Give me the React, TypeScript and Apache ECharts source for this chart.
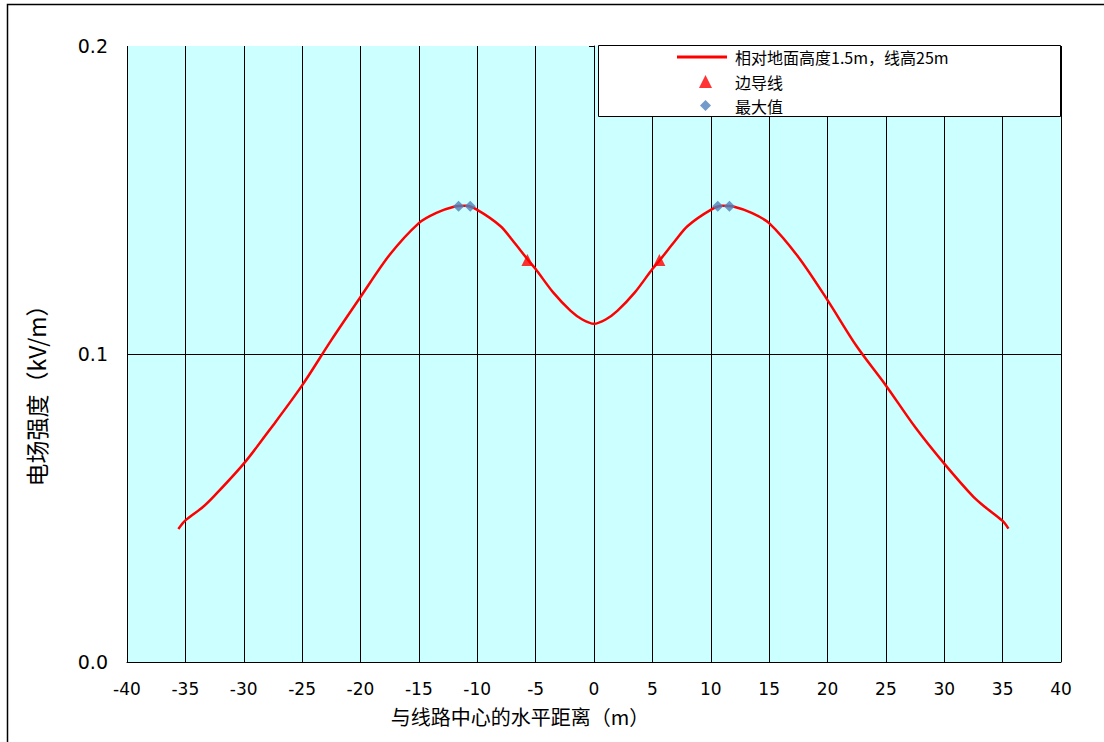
import React, { useEffect, useRef } from "react";
import * as echarts from "echarts";

// distance from line centre (m)
const distance = [
  -35.6, -35, -33.5, -32.5, -30, -27.5, -25, -22.5, -20, -17.5, -15, -13.5, -12, -11, -10, -8, -7,
  -5.6, -5, -3.5, -2, -1, 0, 1, 2, 3.5, 5, 5.6, 7, 8, 10, 11, 12, 13.5, 15, 17.5, 20, 22.5, 25,
  27.5, 30, 32.5, 33.5, 35, 35.5,
];
// electric field strength (kV/m)
const fieldStrength = [
  0.0432, 0.046, 0.0503, 0.054, 0.0644, 0.0768, 0.0898, 0.1045, 0.1185, 0.1322, 0.1425, 0.1458,
  0.1478, 0.1481, 0.1468, 0.1415, 0.137, 0.1303, 0.1276, 0.12, 0.114, 0.1112, 0.1098, 0.1112,
  0.114, 0.12, 0.1276, 0.1303, 0.137, 0.1415, 0.1468, 0.1481, 0.1478, 0.1458, 0.1425, 0.1315,
  0.1175, 0.1025, 0.0898, 0.0763, 0.0644, 0.0536, 0.0503, 0.0458, 0.0433,
];
const sideConductorX = [-5.7, 5.6];
const sideConductorY = [0.1305, 0.1305];
const maxValueX = [-11.6, -10.6, 10.6, 11.6];
const maxValueY = [0.148, 0.148, 0.148, 0.148];

const seriesNames = ["相对地面高度1.5m，线高25m", "边导线", "最大值"];
const xAxisTitle = "与线路中心的水平距离（m）";
const yAxisTitle = "电场强度（kV/m）";

export default function App() {
  const ref = useRef<HTMLDivElement>(null);
  useEffect(() => {
    document.body.style.margin = "0";
    const chart = echarts.init(ref.current!, null, { renderer: "svg" });
    const sans = "'DejaVu Sans', sans-serif";
    const cjk = "'Noto Sans CJK SC', sans-serif";
    const legendText = { fontFamily: cjk, fontSize: 16, color: "#000" };
    chart.setOption({
      animation: false,
      backgroundColor: "#ffffff",
      grid: {
        left: 127,
        right: 43,
        top: 46,
        bottom: 80,
        show: true,
        backgroundColor: "#CCFFFF",
        borderWidth: 0,
      },
      xAxis: {
        type: "value",
        min: -40,
        max: 40,
        interval: 5,
        name: xAxisTitle,
        nameLocation: "middle",
        nameGap: 44,
        nameTextStyle: {
          fontFamily: cjk,
          fontSize: 20,
          color: "#000",
          padding: [0, 148, 0, 0],
        },
        axisLine: { show: true, onZero: false, lineStyle: { color: "#000", width: 1 } },
        axisTick: { show: false },
        axisLabel: { fontFamily: sans, fontSize: 17, color: "#000", margin: 18 },
        splitLine: { show: true, lineStyle: { color: "#000", width: 1 } },
      },
      yAxis: {
        type: "value",
        min: 0,
        max: 0.2,
        interval: 0.1,
        name: yAxisTitle,
        nameLocation: "middle",
        nameGap: 80,
        nameRotate: 90,
        nameTextStyle: {
          fontFamily: cjk,
          fontSize: 23,
          color: "#000",
          padding: [0, 72, 0, 0],
        },
        axisLine: { show: true, lineStyle: { color: "#000", width: 1 } },
        axisTick: { show: true, length: 5, lineStyle: { color: "#000" } },
        axisLabel: {
          fontFamily: sans,
          fontSize: 19,
          color: "#000",
          margin: 19,
          formatter: (v: number) => v.toFixed(1),
        },
        splitLine: { show: true, showMaxLine: false, lineStyle: { color: "#000", width: 1 } },
      },
      legend: [
        {
          orient: "vertical",
          left: 677,
          top: 49,
          padding: 0,
          itemWidth: 50,
          itemHeight: 3,
          z: 10,
          textStyle: { ...legendText, padding: [0, 0, 0, 3] },
          data: [{ name: seriesNames[0], icon: "path://M0,0H50V3H0Z" }],
        },
        {
          left: 699,
          top: 73.5,
          padding: 0,
          itemWidth: 13,
          itemHeight: 13,
          z: 10,
          textStyle: { ...legendText, padding: [0, 0, 0, 18] },
          data: [{ name: seriesNames[1], icon: "triangle" }],
        },
        {
          left: 700,
          top: 97.5,
          padding: 0,
          itemWidth: 11,
          itemHeight: 11,
          z: 10,
          textStyle: { ...legendText, padding: [0, 0, 0, 19] },
          data: [{ name: seriesNames[2], icon: "diamond" }],
        },
      ],
      graphic: [
        {
          type: "rect",
          z: 5,
          shape: { x: 598.5, y: 45.5, width: 462, height: 71 },
          style: { fill: "#fff", stroke: "#000", lineWidth: 1 },
        },
        {
          type: "polyline",
          z: 5,
          shape: { points: [[7.5, 742], [7.5, 4.5], [1104, 4.5]] },
          style: { stroke: "#000", lineWidth: 1.5, fill: "none" },
        },
      ],
      series: [
        {
          name: seriesNames[0],
          type: "line",
          data: distance.map((x, i) => [x, fieldStrength[i]]),
          smooth: 0.3,
          symbol: "none",
          lineStyle: { color: "#FF0000", width: 2.5 },
          itemStyle: { color: "#FF0000" },
          z: 3,
        },
        {
          name: seriesNames[1],
          type: "scatter",
          data: sideConductorX.map((x, i) => [x, sideConductorY[i]]),
          symbol: "triangle",
          symbolSize: 12,
          itemStyle: { color: "#FF0000" },
          z: 4,
        },
        {
          name: seriesNames[2],
          type: "scatter",
          data: maxValueX.map((x, i) => [x, maxValueY[i]]),
          symbol: "diamond",
          symbolSize: 11,
          itemStyle: { color: "#4F81BD" },
          z: 4,
        },
      ],
    });
    return () => chart.dispose();
  }, []);
  return <div ref={ref} style={{ width: 1104, height: 742 }} />;
}
